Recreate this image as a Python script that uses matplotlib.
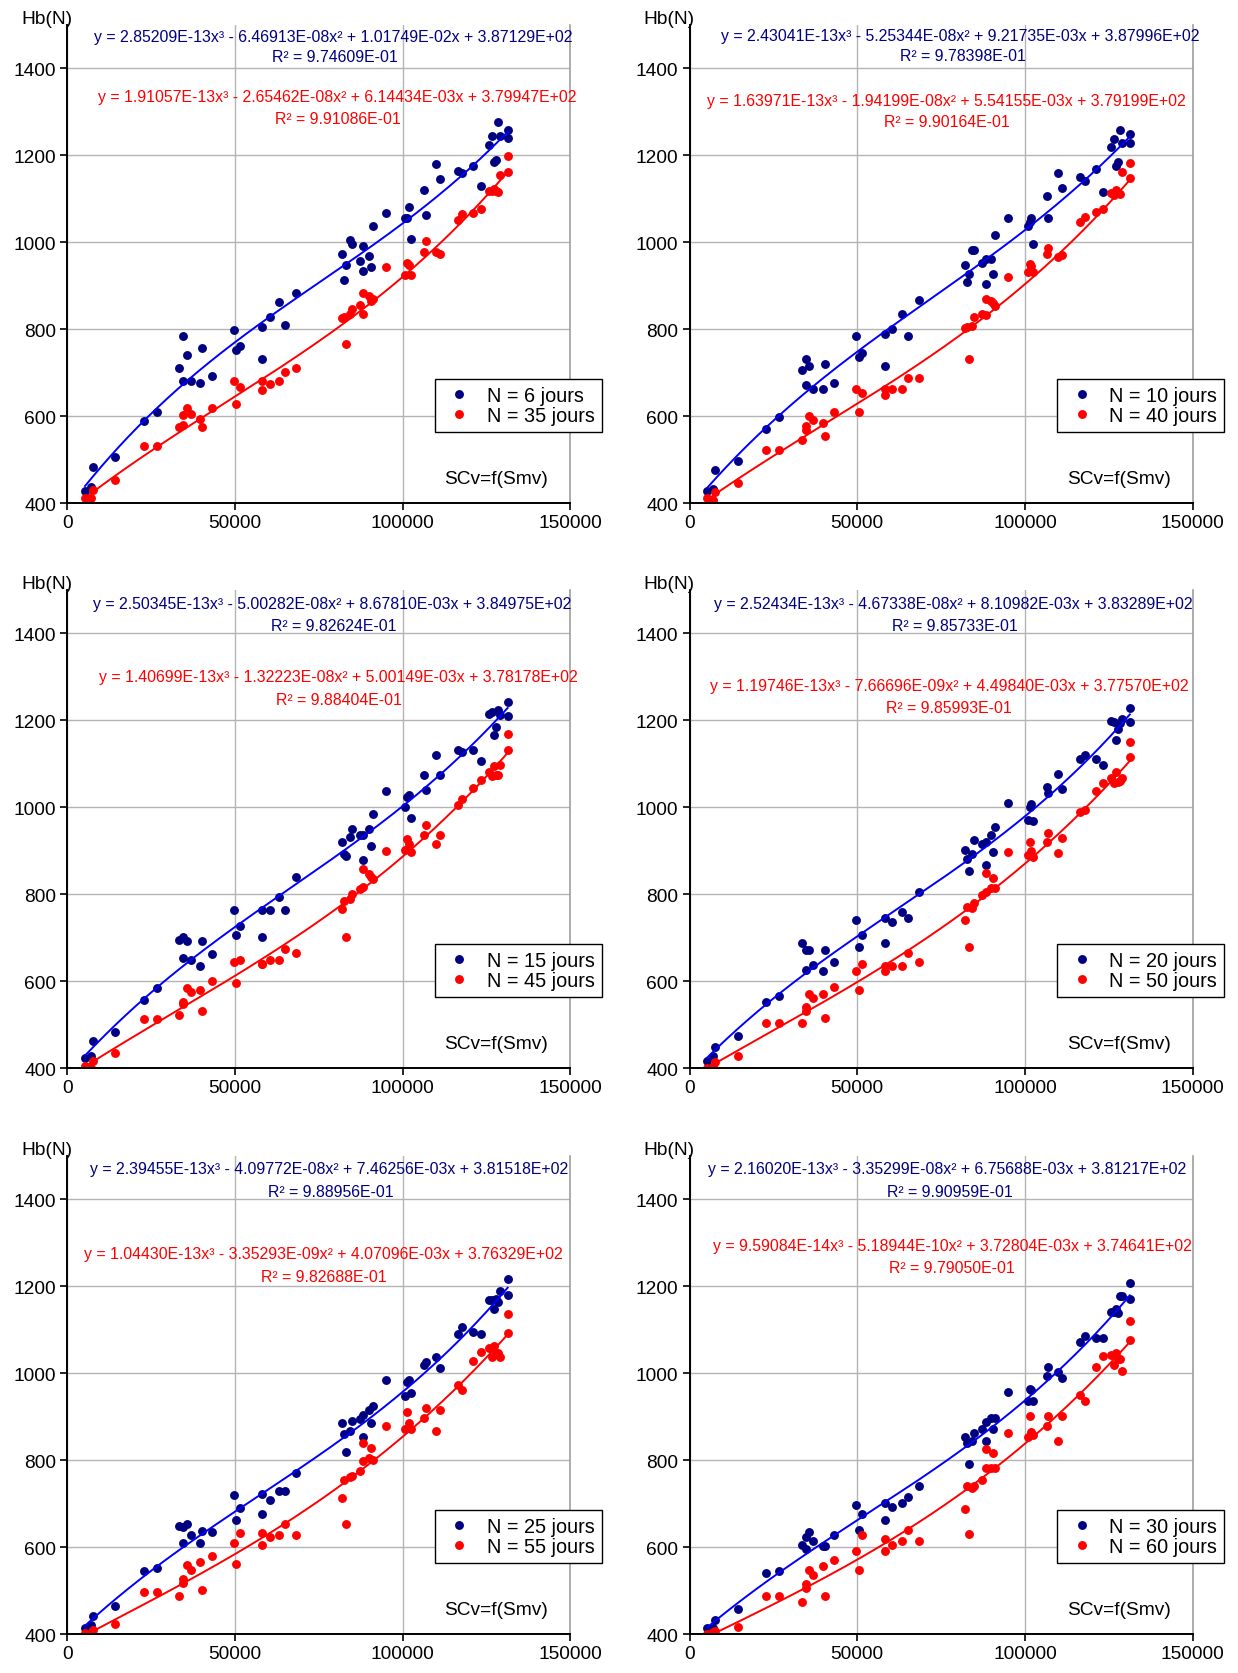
import numpy as np
import matplotlib
matplotlib.use("Agg")
import matplotlib.pyplot as plt

plt.rcParams['font.family'] = ['Liberation Sans', 'DejaVu Sans']

# Smv values (shared by every panel)
smv = [5268, 7057, 7554, 14314, 22763, 26640, 33400, 34590, 34590, 35685,
       36880, 39660, 40260, 43040, 49700, 50400, 51490, 58150, 58150, 60440,
       63220, 65010, 68290, 82000, 82600, 83200, 84300, 84900, 87200, 88300,
       88300, 90000, 90600, 91100, 95100, 100800, 101400, 101900, 102500, 106500,
       107000, 109900, 111000, 116500, 117800, 121100, 123400, 125600, 126700, 127300,
       127900, 128500, 129100, 131300, 131300]

n_short = [6, 10, 15, 20, 25, 30]
n_long = [35, 40, 45, 50, 55, 60]

hb_short = [
    [428, 437, 484, 506, 588, 609, 710, 784, 680, 740, 680, 675, 757, 693, 797, 753, 762, 805, 732, 827, 862, 810, 883,
     973, 913, 947, 1004, 995, 956, 990, 934, 969, 943, 1038, 1068, 1055, 1055, 1081, 1008, 1120, 1063, 1180, 1146,
     1163, 1158, 1176, 1128, 1224, 1245, 1184, 1189, 1275, 1245, 1257, 1240],
    [428, 432, 476, 497, 571, 597, 706, 732, 671, 714, 662, 662, 719, 675, 784, 735, 745, 788, 714, 801, 835, 784, 866,
     947, 909, 926, 982, 982, 952, 960, 904, 960, 926, 1016, 1055, 1038, 1047, 1055, 995, 1107, 1055, 1159, 1124,
     1150, 1141, 1167, 1115, 1219, 1236, 1176, 1184, 1257, 1227, 1249, 1227],
    [423, 429, 462, 483, 558, 584, 696, 702, 653, 693, 649, 636, 693, 663, 763, 706, 727, 763, 701, 763, 793, 763, 841,
     920, 892, 889, 932, 950, 937, 937, 880, 950, 911, 985, 1037, 1000, 1023, 1028, 975, 1075, 1041, 1120, 1075,
     1133, 1128, 1133, 1106, 1215, 1219, 1167, 1184, 1225, 1213, 1242, 1210],
    [418, 428, 449, 475, 553, 566, 689, 671, 627, 671, 637, 623, 671, 644, 740, 680, 706, 745, 689, 736, 759, 745, 806,
     902, 882, 854, 893, 924, 915, 920, 868, 937, 897, 955, 1011, 972, 1002, 1008, 968, 1046, 1033, 1076, 1042,
     1111, 1120, 1111, 1098, 1198, 1197, 1154, 1180, 1195, 1204, 1228, 1197],
    [415, 422, 442, 466, 545, 553, 649, 646, 611, 654, 628, 610, 637, 636, 720, 663, 690, 723, 676, 710, 729, 729, 772,
     885, 860, 819, 867, 890, 894, 904, 854, 916, 885, 925, 985, 949, 981, 984, 955, 1020, 1026, 1037, 1012,
     1090, 1107, 1095, 1090, 1168, 1168, 1149, 1172, 1163, 1190, 1217, 1181],
    [415, 415, 432, 459, 541, 545, 606, 623, 597, 636, 615, 602, 602, 628, 697, 641, 676, 702, 663, 693, 702, 715, 741,
     854, 839, 792, 845, 863, 871, 889, 845, 897, 871, 898, 958, 937, 964, 962, 937, 993, 1015, 1002, 990,
     1072, 1086, 1081, 1081, 1141, 1142, 1148, 1138, 1177, 1177, 1208, 1172],
]

hb_long = [
    [411, 411, 429, 454, 532, 532, 575, 580, 602, 619, 605, 594, 575, 619, 680, 628, 667, 680, 659, 674, 680, 701, 710,
     826, 828, 765, 835, 847, 856, 882, 835, 876, 864, 870, 943, 925, 952, 947, 925, 978, 1003, 978, 973,
     1050, 1064, 1068, 1076, 1118, 1117, 1122, 1118, 1114, 1154, 1198, 1160],
    [411, 408, 425, 446, 523, 523, 545, 576, 567, 601, 592, 584, 554, 610, 662, 610, 654, 662, 649, 662, 662, 688, 688,
     803, 805, 731, 808, 827, 834, 870, 832, 865, 860, 854, 919, 931, 950, 944, 931, 972, 987, 965, 970,
     1046, 1058, 1069, 1077, 1112, 1108, 1120, 1113, 1110, 1160, 1181, 1147],
    [405, 401, 418, 435, 514, 514, 522, 553, 548, 584, 575, 579, 532, 601, 644, 596, 649, 640, 640, 649, 649, 675, 666,
     766, 785, 702, 790, 800, 812, 858, 817, 846, 840, 835, 899, 902, 928, 915, 897, 937, 959, 915, 937,
     1006, 1019, 1045, 1062, 1082, 1072, 1095, 1075, 1075, 1098, 1168, 1132],
    [401, 403, 414, 428, 505, 505, 505, 541, 533, 571, 562, 571, 515, 588, 623, 579, 641, 636, 623, 636, 636, 666, 645,
     741, 772, 679, 768, 781, 799, 850, 806, 815, 837, 815, 897, 891, 920, 899, 885, 920, 942, 894, 929,
     989, 993, 1037, 1055, 1068, 1056, 1082, 1059, 1060, 1068, 1150, 1115],
    [402, 401, 411, 424, 497, 497, 489, 528, 519, 559, 549, 566, 501, 580, 610, 562, 632, 632, 605, 623, 628, 654, 628,
     714, 754, 653, 762, 763, 775, 798, 841, 806, 828, 800, 880, 872, 911, 885, 872, 898, 920, 867, 915,
     973, 962, 1028, 1050, 1059, 1037, 1064, 1046, 1047, 1037, 1137, 1093],
    [400, 405, 408, 418, 489, 489, 475, 515, 507, 549, 537, 558, 489, 571, 592, 549, 628, 619, 592, 606, 615, 641, 615,
     688, 740, 631, 736, 740, 754, 783, 827, 783, 816, 783, 863, 854, 902, 866, 858, 880, 902, 845, 902,
     951, 937, 1015, 1041, 1043, 1020, 1047, 1032, 1033, 1006, 1120, 1076],
]

# cubic trendline coefficients (x^3, x^2, x, 1) as printed on the chart
coef_short = [
    [2.85209e-13, -6.46913e-08, 1.01749e-02, 3.87129e+02],
    [2.43041e-13, -5.25344e-08, 9.21735e-03, 3.87996e+02],
    [2.50345e-13, -5.00282e-08, 8.67810e-03, 3.84975e+02],
    [2.52434e-13, -4.67338e-08, 8.10982e-03, 3.83289e+02],
    [2.39455e-13, -4.09772e-08, 7.46256e-03, 3.81518e+02],
    [2.16020e-13, -3.35299e-08, 6.75688e-03, 3.81217e+02],
]
coef_long = [
    [1.91057e-13, -2.65462e-08, 6.14434e-03, 3.79947e+02],
    [1.63971e-13, -1.94199e-08, 5.54155e-03, 3.79199e+02],
    [1.40699e-13, -1.32223e-08, 5.00149e-03, 3.78178e+02],
    [1.19746e-13, -7.66696e-09, 4.49840e-03, 3.77570e+02],
    [1.04430e-13, -3.35293e-09, 4.07096e-03, 3.76329e+02],
    [9.59084e-14, -5.18944e-10, 3.72804e-03, 3.74641e+02],
]
r2_short = [9.74609e-01, 9.78398e-01, 9.82624e-01, 9.85733e-01, 9.88956e-01, 9.90959e-01]
r2_long = [9.91086e-01, 9.90164e-01, 9.88404e-01, 9.85993e-01, 9.82688e-01, 9.79050e-01]

# text placement per panel (axes fraction): blue x, blue y, blue R2 y, red x, red y, red R2 y
text_pos = [
    (0.528, 0.975, 0.933, 0.537, 0.850, 0.804),
    (0.539, 0.977, 0.935, 0.511, 0.841, 0.797),
    (0.526, 0.972, 0.926, 0.539, 0.818, 0.772),
    (0.524, 0.972, 0.926, 0.516, 0.801, 0.754),
    (0.520, 0.973, 0.926, 0.509, 0.795, 0.748),
    (0.513, 0.973, 0.926, 0.522, 0.812, 0.766),
]


def eq_text(c):
    a, b, k, d = c
    sg = lambda v: '-' if v < 0 else '+'
    return (f"y = {abs(a):.5E}x³ {sg(b)} {abs(b):.5E}x² "
            f"{sg(k)} {abs(k):.5E}x {sg(d)} {abs(d):.5E}")


fig = plt.figure(figsize=(12.38, 16.74), dpi=100)
col_x = [0.0544, 0.5570]
row_y = [0.6989, 0.3612, 0.0231]
w, h = 0.4063, 0.2858

xs = np.array(smv)
xfit = np.linspace(xs.min(), xs.max(), 300)

for i in range(6):
    ax = fig.add_axes([col_x[i % 2], row_y[i // 2], w, h])
    ax.plot(xs, hb_short[i], 'o', color='#000080', ms=6.4, mec='none',
            label=f"N = {n_short[i]} jours", zorder=3)
    ax.plot(xs, hb_long[i], 'o', color='#ff0000', ms=6.4, mec='none',
            label=f"N = {n_long[i]} jours", zorder=3)
    ax.plot(xfit, np.polyval(coef_short[i], xfit), color='#0000ff', lw=1.4, zorder=4)
    ax.plot(xfit, np.polyval(coef_long[i], xfit), color='#ff0000', lw=1.4, zorder=4)

    ax.set_xlim(0, 150000)
    ax.set_ylim(400, 1500)
    ax.set_xticks([0, 50000, 100000, 150000])
    ax.set_yticks([400, 600, 800, 1000, 1200, 1400])
    ax.grid(True, color='#b4b4b4', lw=1)
    ax.set_axisbelow(True)
    ax.spines['top'].set_visible(False)
    ax.spines['right'].set_color('#a0a0a0')
    ax.spines['right'].set_linewidth(1.2)
    for s in ['left', 'bottom']:
        ax.spines[s].set_linewidth(1.4)
        ax.spines[s].set_zorder(5)
    ax.tick_params(direction='out', length=5, width=1.2, labelsize=13.8, pad=3)

    bx, by, br, rx, ry, rr = text_pos[i]
    ax.text(bx, by, eq_text(coef_short[i]), transform=ax.transAxes, ha='center',
            va='center', color='#000080', fontsize=11.4)
    ax.text(bx + 0.004, br, f"R² = {r2_short[i]:.5E}", transform=ax.transAxes,
            ha='center', va='center', color='#000080', fontsize=11.4)
    ax.text(rx, ry, eq_text(coef_long[i]), transform=ax.transAxes, ha='center',
            va='center', color='#ff0000', fontsize=11.4)
    ax.text(rx, rr, f"R² = {r2_long[i]:.5E}", transform=ax.transAxes,
            ha='center', va='center', color='#ff0000', fontsize=11.4)

    ax.text(-0.041, 1.013, "Hb(N)", transform=ax.transAxes, ha='center',
            va='center', fontsize=13.8)
    ax.text(0.853, 0.052, "SCv=f(Smv)", transform=ax.transAxes, ha='center',
            va='center', fontsize=13.8)

    leg = ax.legend(loc='upper left', bbox_to_anchor=(0.730, 0.259), fontsize=14.3,
                    frameon=True, fancybox=False, edgecolor='black', framealpha=1,
                    handlelength=1.8, handletextpad=0.5, borderpad=0.35,
                    labelspacing=0.05, borderaxespad=0)
    leg.get_frame().set_linewidth(1.0)
    leg.set_zorder(6)

fig.savefig("out.png", dpi=100)
